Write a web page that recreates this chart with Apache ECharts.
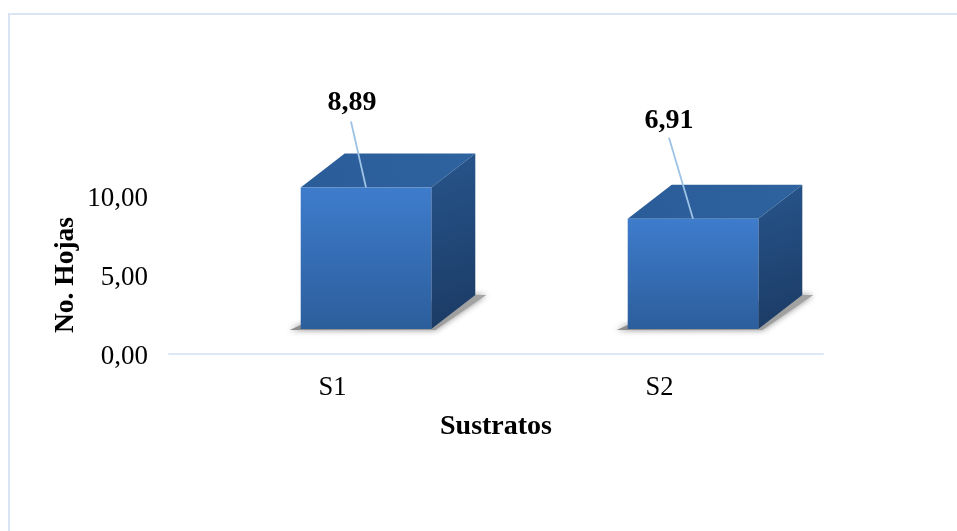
<!DOCTYPE html>
<html>
<head>
<meta charset="utf-8">
<style>html,body{margin:0;padding:0;background:#fff}#c{width:957px;height:531px}</style>
<script src="https://cdn.jsdelivr.net/npm/echarts@6/dist/echarts.min.js"></script>
</head>
<body>
<div id="c"></div>
<script>
const categories = ['S1', 'S2'];
const values = [8.89, 6.91];
const yTicks = { min: 0, max: 10, interval: 5 };
const xTitle = 'Sustratos';
const yTitle = 'No. Hojas';
const valueText = ['8,89', '6,91'];
// leader-line layout (offset from bar front-top centre), pixels
const leaderOffsets = [[-15, -66], [-24, -81]];
const labelOffsets = [[1, -18.5], [0, -17]];

const FONT = '"Liberation Serif","Times New Roman",serif';
const grad = (x, y, x2, y2, a, b) => new echarts.graphic.LinearGradient(x, y, x2, y2, [{offset: 0, color: a}, {offset: 1, color: b}]);
const poly = (pts, fill, extra) => ({type: 'polygon', shape: {points: pts}, style: Object.assign({fill}, extra || {})});

function renderBox(params, api) {
  const i = api.value(0), v = api.value(1);
  const c = api.coord([i, v]), c0 = api.coord([i, 0]);
  const cx = c[0] + 33.5, hw = 65.3, lift = 25, dx = 44, dy = 34;
  const L = cx - hw, R = cx + hw, B = c0[1] - lift, T = c[1] - lift - 1;
  const tx = cx, off = leaderOffsets[i], lo = labelOffsets[i];
  return {type: 'group', children: [
    poly([[L - 11, B + 1], [L, B - 4], [R + dx, B - dy], [R + dx + 11, B - dy], [R + 4, B + 1]],
      grad(1, 0, 0, 1, '#a4a4a4', '#8c8c8c'), {shadowBlur: 6, shadowColor: 'rgba(100,100,100,0.75)'}),
    poly([[L, T], [L + dx, T - dy], [R + dx, T - dy], [R, T]], grad(1, 0, 0, 1, '#2e639f', '#2a5c98')),
    poly([[R, T], [R + dx, T - dy], [R + dx, B - dy], [R, B]], grad(0, 0, 1, 1, '#27558c', '#1b3a63')),
    {type: 'rect', shape: {x: L, y: T, width: R - L, height: B - T}, style: {fill: grad(0, 0, 0, 1, '#3e7ccc', '#2c5e9c')}},
    {type: 'line', shape: {x1: tx, y1: T, x2: tx + off[0], y2: T + off[1]}, style: {stroke: '#9dc3e6', lineWidth: 1.8}},
    {type: 'text', x: tx + off[0] + lo[0], y: T + off[1] + lo[1], style: {text: valueText[i], font: 'bold 28px ' + FONT, fill: '#000', align: 'center', verticalAlign: 'middle'}}
  ]};
}

const chart = echarts.init(document.getElementById('c'), null, {renderer: 'canvas'});
chart.setOption({
  animation: false,
  backgroundColor: '#fff',
  graphic: [
    {type: 'rect', silent: true, z: -1, shape: {x: 9, y: 14, width: 960, height: 530}, style: {fill: 'transparent', stroke: '#d9e5f4', lineWidth: 2}}
  ],
  grid: {left: 169, width: 654, top: 196, height: 158, containLabel: false},
  xAxis: {
    type: 'category', data: categories,
    name: xTitle, nameLocation: 'middle', nameGap: 59,
    nameTextStyle: {fontFamily: FONT, fontWeight: 'bold', fontSize: 28, color: '#000'},
    axisLine: {lineStyle: {color: '#dce8f7', width: 2}},
    axisTick: {show: false},
    axisLabel: {fontFamily: FONT, fontSize: 26.5, color: '#000', margin: 21},
    splitLine: {show: false}
  },
  yAxis: {
    type: 'value', min: yTicks.min, max: yTicks.max, interval: yTicks.interval,
    name: yTitle, nameLocation: 'middle', nameGap: 89, nameMoveOverlap: false,
    nameTextStyle: {fontFamily: FONT, fontWeight: 'bold', fontSize: 27.5, color: '#000'},
    axisLine: {show: false}, axisTick: {show: false}, splitLine: {show: false},
    axisLabel: {fontFamily: FONT, fontSize: 27, color: '#000', margin: 21, verticalAlign: 'top', lineHeight: 6,
      formatter: v => v.toFixed(2).replace('.', ',')}
  },
  series: [{
    type: 'custom', clip: false, coordinateSystem: 'cartesian2d',
    renderItem: renderBox,
    encode: {x: 0, y: 1},
    data: values.map((v, i) => [i, v])
  }]
});
</script>
</body>
</html>
